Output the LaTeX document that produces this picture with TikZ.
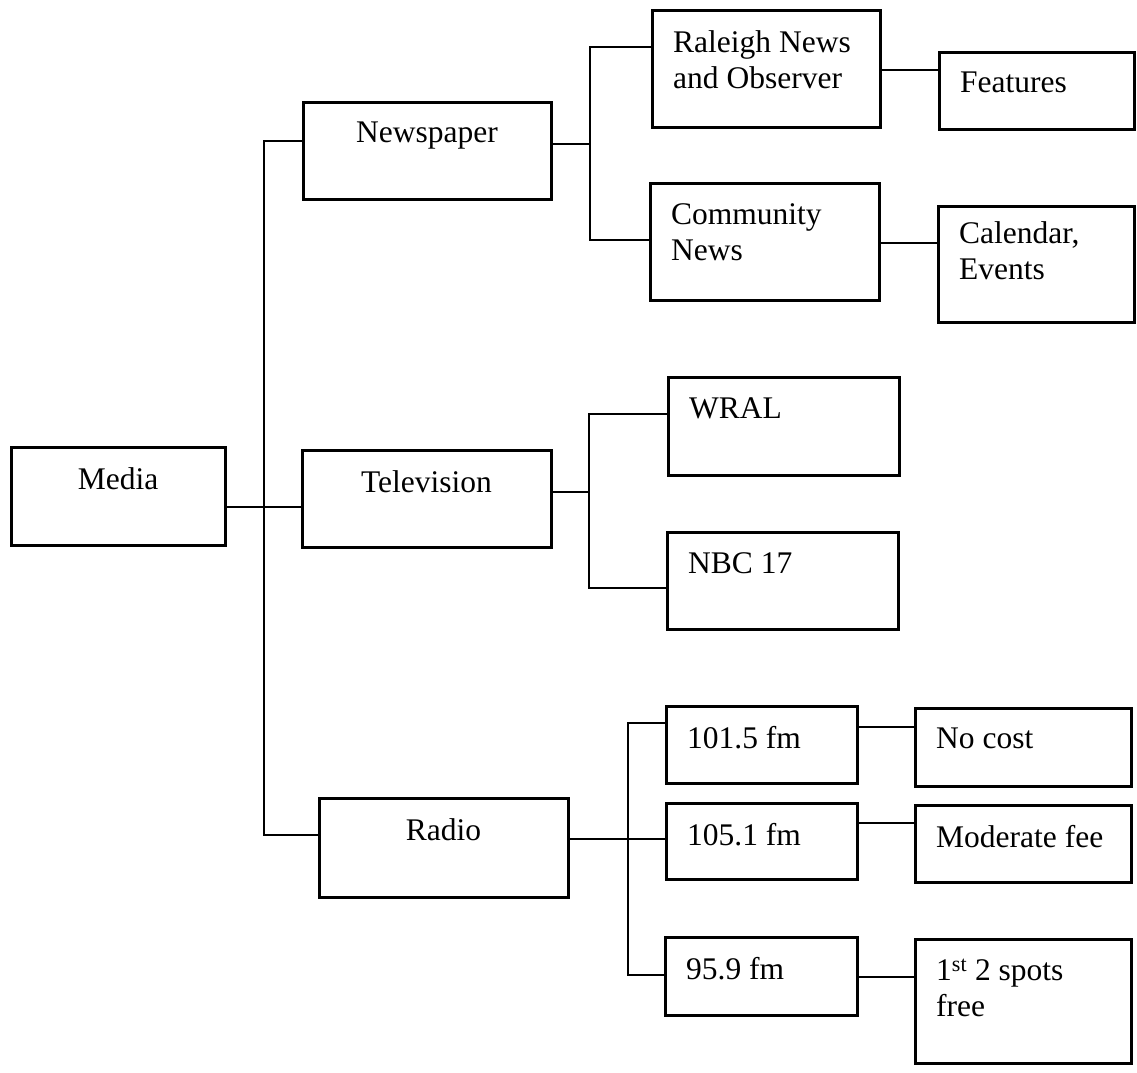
\documentclass[tikz,border=0pt]{standalone}
\usepackage{fontspec}
\setmainfont{Liberation Serif}
\usetikzlibrary{positioning}

\begin{document}
\begin{tikzpicture}[x=1pt, y=-1pt,
    box/.style 2 args={draw, line width=3pt, inner sep=0pt, outer sep=0pt,
                       minimum width=#1pt, minimum height=#2pt},
    link/.style={line width=2.8pt},
    lbl/.style={inner sep=0pt, align=left,
                font=\fontsize{31.5}{36}\selectfont}]
  \useasboundingbox (0,0) rectangle (1137,1072);

  % Root and main branches
  \node[box={214}{98}] (media) at (118,496) {};
  \node[box={248}{97}] (news) at (427,150.5) {};
  \node[box={249}{97}] (tv) at (426.5,498.5) {};
  \node[box={249}{99}] (radio) at (443.5,847.5) {};
  \node[lbl, anchor=north] (mediaT) at ([yshift=-20pt]media.north) {Media};
  \node[lbl, anchor=north] (newsT) at ([yshift=-20pt]news.north) {Newspaper};
  \node[lbl, anchor=north] (tvT) at ([yshift=-20pt]tv.north) {Television};
  \node[lbl, anchor=north] (radioT) at ([yshift=-20pt]radio.north) {Radio};

  % Newspaper
  \node[box={228}{117}] (raleigh) at (766,68.5) {};
  \node[box={195}{77}] (features) at (1036.5,90.5) {};
  \node[box={229}{117}] (community) at (764.5,241.5) {};
  \node[box={196}{116}] (calendar) at (1036,264) {};
  \node[lbl, anchor=north west] (raleighT)
    at ([xshift=21pt, yshift=-20pt]raleigh.north west) {Raleigh News\\and Observer};
  \node[lbl, anchor=north west] (featuresT)
    at ([xshift=21pt, yshift=-20pt]features.north west) {Features};
  \node[lbl, anchor=north west] (communityT)
    at ([xshift=21pt, yshift=-20pt]community.north west) {Community\\News};
  \node[lbl, anchor=north west] (calendarT)
    at ([xshift=21pt, yshift=-15pt]calendar.north west) {Calendar,\\Events};

  % Television
  \node[box={231}{98}] (wral) at (783.5,426) {};
  \node[box={231}{97}] (nbc) at (782.5,580.5) {};
  \node[lbl, anchor=north west] (wralT)
    at ([xshift=21pt, yshift=-20pt]wral.north west) {WRAL};
  \node[lbl, anchor=north west] (nbcT)
    at ([xshift=21pt, yshift=-20pt]nbc.north west) {NBC 17};

  % Radio
  \node[box={191}{77}] (fmA) at (761.5,744.5) {};
  \node[box={216}{78}] (nocost) at (1023,747) {};
  \node[box={191}{76}] (fmB) at (761.5,841) {};
  \node[box={216}{77}] (modfee) at (1023,843.5) {};
  \node[box={192}{78}] (fmC) at (761,976) {};
  \node[box={216}{124}] (spots) at (1023,1001) {};
  \node[lbl, anchor=north west] (fmAT)
    at ([xshift=21pt, yshift=-20pt]fmA.north west) {101.5 fm};
  \node[lbl, anchor=north west] (nocostT)
    at ([xshift=21pt, yshift=-20pt]nocost.north west) {No cost};
  \node[lbl, anchor=north west] (fmBT)
    at ([xshift=21pt, yshift=-20pt]fmB.north west) {105.1 fm};
  \node[lbl, anchor=north west] (modfeeT)
    at ([xshift=21pt, yshift=-20pt]modfee.north west) {Moderate fee};
  \node[lbl, anchor=north west] (fmCT)
    at ([xshift=21pt, yshift=-20pt]fmC.north west) {95.9 fm};
  \node[lbl, anchor=north west] (spotsT)
    at ([xshift=21pt, yshift=-20pt]spots.north west) {1\textsuperscript{st} 2 spots\\free};

  % Junction points
  \coordinate (trunkTop) at (264,141);
  \coordinate (trunkMid) at (264,507);
  \coordinate (trunkBot) at (264,835);
  \coordinate (nFork) at (590,144);
  \coordinate (nTop) at (590,47);
  \coordinate (nBot) at (590,240);
  \coordinate (tFork) at (589,492);
  \coordinate (tTop) at (589,414);
  \coordinate (tBot) at (589,588);
  \coordinate (rFork) at (628,839);
  \coordinate (rTop) at (628,723);
  \coordinate (rBot) at (628,975);

  % Connectors
  \draw[link] (news.west |- trunkTop) -- (trunkTop) -- (trunkBot)
    -- (radio.west |- trunkBot);
  \draw[link] (media.east |- trunkMid) -- (tv.west |- trunkMid);

  \draw[link] (news.east |- nFork) -- (nFork);
  \draw[link] (raleigh.west |- nTop) -- (nTop) -- (nBot) -- (community.west |- nBot);
  \draw[link] (raleigh.east |- 0,70) -- (features.west |- 0,70);
  \draw[link] (community.east |- 0,243) -- (calendar.west |- 0,243);

  \draw[link] (tv.east |- tFork) -- (tFork);
  \draw[link] (wral.west |- tTop) -- (tTop) -- (tBot) -- (nbc.west |- tBot);

  \draw[link] (radio.east |- rFork) -- (fmB.west |- rFork);
  \draw[link] (fmA.west |- rTop) -- (rTop) -- (rBot) -- (fmC.west |- rBot);
  \draw[link] (fmA.east |- 0,727) -- (nocost.west |- 0,727);
  \draw[link] (fmB.east |- 0,823) -- (modfee.west |- 0,823);
  \draw[link] (fmC.east |- 0,977) -- (spots.west |- 0,977);
\end{tikzpicture}
\end{document}
